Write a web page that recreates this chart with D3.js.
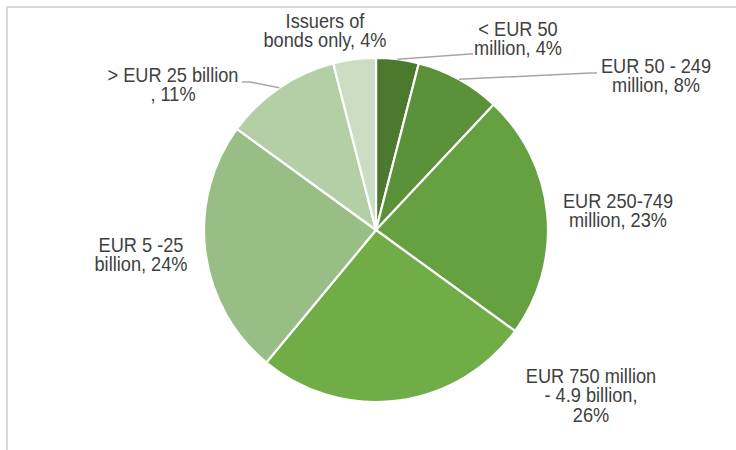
<!DOCTYPE html>
<html>
<head>
<meta charset="utf-8">
<script src="https://cdn.jsdelivr.net/npm/d3@7"></script>
<style>
  html, body { margin: 0; padding: 0; background: #ffffff; }
  svg { display: block; }
</style>
</head>
<body>
<svg id="chart" width="736" height="450"></svg>
<script>
// Share of issuers by size class (clockwise from 12 o'clock)
const categories = [
  "< EUR 50 million",
  "EUR 50 - 249 million",
  "EUR 250-749 million",
  "EUR 750 million - 4.9 billion",
  "EUR 5 -25 billion",
  "> EUR 25 billion",
  "Issuers of bonds only"
];
const shares = [4, 8, 23, 26, 24, 11, 4];
const sliceColors = ["#4b7a2f", "#5a9139", "#65a041", "#70ad47", "#98be85", "#b4cfa6", "#cbddc2"];

// Label text lines for each slice
const labelLines = [
  ["< EUR 50", "million, 4%"],
  ["EUR 50 - 249", "million, 8%"],
  ["EUR 250-749", "million, 23%"],
  ["EUR 750 million", "- 4.9 billion,", "26%"],
  ["EUR 5 -25", "billion, 24%"],
  ["> EUR 25 billion", ", 11%"],
  ["Issuers of", "bonds only, 4%"]
];

// Label placement (centre x, first baseline y) and leader-line end points
const labelPos = [
  [518, 36], [656, 73], [618, 208], [591, 383], [141, 252], [173, 82], [325, 28]
];
const leaderEnds = [
  [[470, 54], [473, 54]],
  [[590, 73], [597, 73]],
  null, null, null,
  [[250, 82], [242, 82]],
  null
];

const width = 736, height = 450;
const cx = 376, cy = 230, radius = 172;

const svg = d3.select("#chart");

// Frame lines along the top and left edges
svg.append("path")
  .attr("d", `M7,${height} L7,7 L${width},7`)
  .attr("fill", "none")
  .attr("stroke", "#d9d9d9")
  .attr("stroke-width", 2);

const pie = d3.pie().sort(null).value(d => d)(shares);
const arc = d3.arc().innerRadius(0).outerRadius(radius);

const g = svg.append("g").attr("transform", `translate(${cx},${cy})`);

g.selectAll("path.slice")
  .data(pie)
  .join("path")
  .attr("class", "slice")
  .attr("d", arc)
  .attr("fill", (d, i) => sliceColors[i])
  .attr("stroke", "#ffffff")
  .attr("stroke-width", 2.2)
  .attr("stroke-linejoin", "round");

// Leader lines from slice edge (mid-angle) to the label
pie.forEach((d, i) => {
  const ends = leaderEnds[i];
  if (!ends) return;
  const a = (d.startAngle + d.endAngle) / 2;
  const start = [cx + radius * Math.sin(a), cy - radius * Math.cos(a)];
  const pts = [start, ...ends];
  svg.append("path")
    .attr("d", d3.line()(pts))
    .attr("fill", "none")
    .attr("stroke", "#a6a6a6")
    .attr("stroke-width", 1.5);
});

// Data labels
const fontSize = 20, lineGap = 19.5, squeeze = 0.91;
labelLines.forEach((lines, i) => {
  const [x, y] = labelPos[i];
  const t = svg.append("g")
    .attr("transform", `translate(${x},${y}) scale(${squeeze},1)`)
    .append("text")
    .attr("text-anchor", "middle")
    .attr("font-family", "'Liberation Sans', Arial, sans-serif")
    .attr("font-size", fontSize)
    .attr("fill", "#404040");
  lines.forEach((ln, j) => {
    t.append("tspan").attr("x", 0).attr("y", j * lineGap).text(ln);
  });
});
</script>
</body>
</html>
